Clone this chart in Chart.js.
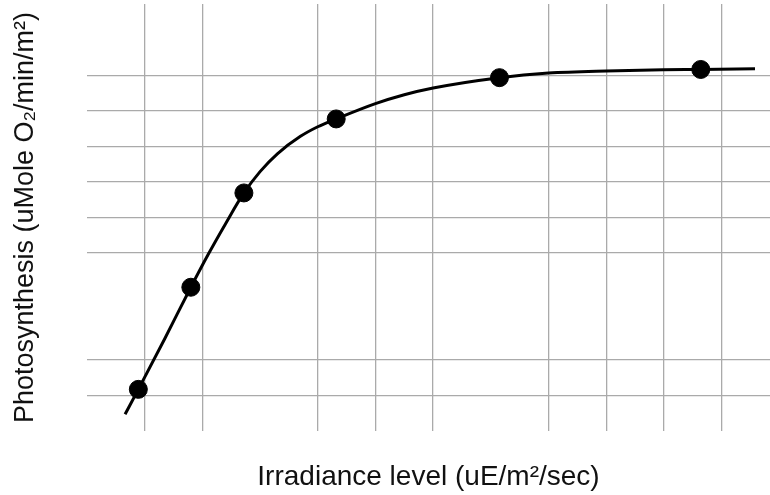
<!DOCTYPE html>
<html>
<head>
<meta charset="utf-8">
<script src="https://cdn.jsdelivr.net/npm/chart.js@4"></script>
<style>
  html, body { margin: 0; padding: 0; background: #fff; }
  #wrap { width: 770px; height: 495px; }
</style>
</head>
<body>
<div id="wrap"><canvas id="lightCurve"></canvas></div>
<script>
// measured points (grid units, no tick labels in the original)
const irradiance = [0.89, 1.80, 2.72, 4.32, 7.15, 10.64];
const photosynthesis = [1.17, 4.04, 6.69, 8.77, 9.93, 10.16];

// fitted curve
const curveX = [0.66, 0.89, 1.35, 1.80, 2.10, 2.40, 2.72, 3.00, 3.30, 3.70, 4.00, 4.32, 5.00, 5.50, 6.00, 7.15, 8.00, 9.00, 10.00, 10.64, 11.58];
const curveY = [0.47, 1.17, 2.60, 4.04, 4.96, 5.82, 6.69, 7.29, 7.79, 8.28, 8.55, 8.77, 9.20, 9.45, 9.64, 9.93, 10.06, 10.12, 10.15, 10.16, 10.18];

// which grid lines show up in the original
const xGridLines = [1, 2, 4, 5, 6, 8, 9, 10, 11];
const yGridLines = [1, 2, 5, 6, 7, 8, 9, 10];

const xTitle = 'Irradiance level (uE/m\u00B2/sec)';
const yTitle = 'Photosynthesis (uMole O\u2082/min/m\u00B2)';

document.addEventListener("DOMContentLoaded", function() {
    const ctx = document.getElementById('lightCurve');
    const gridColor = '#aaaaaa';
    const family = "'Liberation Sans', Arial, sans-serif";

    new Chart(ctx, {
        type: 'scatter',
        data: {
            datasets: [{
                label: 'Measured',
                data: irradiance.map((x, i) => ({ x: x, y: photosynthesis[i] })),
                backgroundColor: '#000',
                borderColor: '#000',
                pointRadius: 9,
                showLine: false
            }, {
                label: 'Fit',
                data: curveX.map((x, i) => ({ x: x, y: curveY[i] })),
                borderColor: '#000',
                borderWidth: 3,
                pointRadius: 0,
                showLine: true,
                cubicInterpolationMode: 'monotone'
            }]
        },
        options: {
            responsive: true,
            maintainAspectRatio: false,
            animation: false,
            layout: { autoPadding: false, padding: { top: 4, right: 0, left: 0, bottom: 0 } },
            plugins: {
                legend: { display: false },
                tooltip: { enabled: false }
            },
            scales: {
                x: {
                    min: 0,
                    max: 11.84,
                    ticks: { display: false, stepSize: 1, includeBounds: false },
                    border: { display: false },
                    grid: {
                        drawTicks: false,
                        lineWidth: 1.3,
                        color: c => xGridLines.includes(c.tick.value) ? gridColor : 'rgba(0,0,0,0)'
                    },
                    title: {
                        display: true,
                        text: xTitle,
                        color: '#111',
                        font: { family: family, size: 28 },
                        padding: { top: 29.2, bottom: 1.2 }
                    }
                },
                y: {
                    min: 0,
                    max: 12,
                    ticks: { display: false, stepSize: 1 },
                    border: { display: false },
                    grid: {
                        drawTicks: false,
                        lineWidth: 1.3,
                        color: c => yGridLines.includes(c.tick.value) ? gridColor : 'rgba(0,0,0,0)'
                    },
                    title: {
                        display: true,
                        text: yTitle,
                        color: '#111',
                        font: { family: family, size: 27 },
                        padding: { top: 9.8, bottom: 44.8 }
                    }
                }
            }
        }
    });
});
</script>
</body>
</html>
